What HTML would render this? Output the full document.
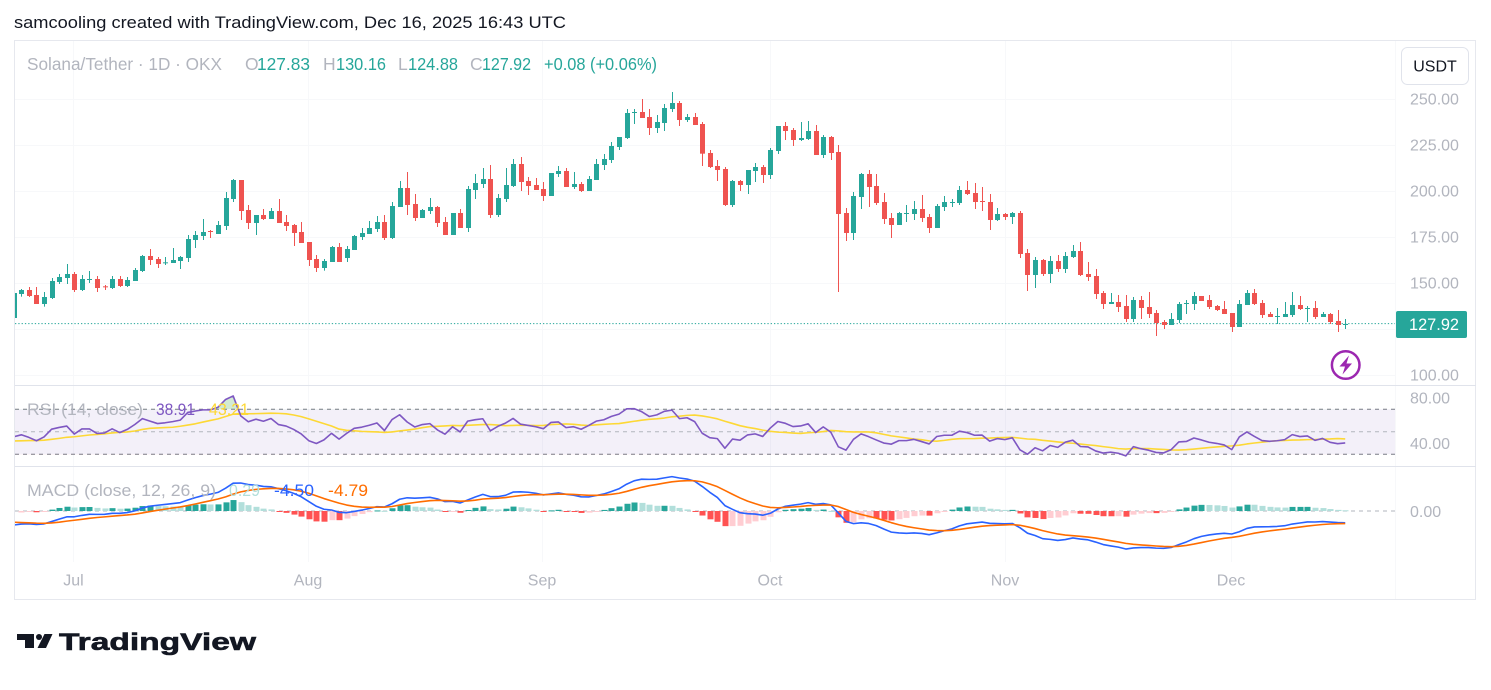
<!DOCTYPE html>
<html><head><meta charset="utf-8">
<style>
html,body{margin:0;padding:0;background:#fff;}
svg{display:block;font-family:"Liberation Sans",sans-serif;}
</style></head>
<body>
<svg id="c" width="1491" height="690" viewBox="0 0 1491 690" xmlns="http://www.w3.org/2000/svg">
<defs>
<clipPath id="cm"><rect x="15" y="41" width="1380" height="344"/></clipPath>
<clipPath id="cr"><rect x="15" y="386" width="1380" height="80"/></clipPath>
<clipPath id="cd"><rect x="15" y="467" width="1380" height="100"/></clipPath>
<clipPath id="ob"><rect x="15" y="386" width="1380" height="23.25"/></clipPath>
<clipPath id="os"><rect x="15" y="454.25" width="1380" height="12"/></clipPath>
</defs>
<rect x="0" y="0" width="1491" height="690" fill="#fff"/>
<text x="14" y="28" font-size="17" fill="#131722" textLength="552" lengthAdjust="spacingAndGlyphs">samcooling created with TradingView.com, Dec 16, 2025 16:43 UTC</text>
<rect x="14.5" y="40.5" width="1461" height="559" fill="#fff" stroke="#e6e8ee"/>
<!-- grid -->
<g stroke="#f7f8fa" stroke-width="1">
<line x1="15" y1="99.5" x2="1395" y2="99.5"/>
<line x1="15" y1="145.5" x2="1395" y2="145.5"/>
<line x1="15" y1="191.5" x2="1395" y2="191.5"/>
<line x1="15" y1="237.5" x2="1395" y2="237.5"/>
<line x1="15" y1="283.5" x2="1395" y2="283.5"/>
<line x1="15" y1="329.5" x2="1395" y2="329.5"/>
<line x1="15" y1="375.5" x2="1395" y2="375.5"/>
<line x1="73.5" y1="41" x2="73.5" y2="562"/>
<line x1="308.5" y1="41" x2="308.5" y2="562"/>
<line x1="542.5" y1="41" x2="542.5" y2="562"/>
<line x1="770.5" y1="41" x2="770.5" y2="562"/>
<line x1="1005.5" y1="41" x2="1005.5" y2="562"/>
<line x1="1231.5" y1="41" x2="1231.5" y2="562"/>
<line x1="1395.5" y1="41" x2="1395.5" y2="599"/>
</g>
<!-- pane separators -->
<line x1="15" y1="385.5" x2="1476" y2="385.5" stroke="#e0e3eb"/>
<line x1="15" y1="466.5" x2="1476" y2="466.5" stroke="#e0e3eb"/>
<!-- RSI band -->
<rect x="15" y="409.25" width="1380" height="45" fill="#7e57c2" fill-opacity="0.09"/>
<line x1="15" y1="409.25" x2="1395" y2="409.25" stroke="#787b86" stroke-dasharray="4,4"/>
<line x1="15" y1="431.75" x2="1395" y2="431.75" stroke="#b2b5be" stroke-dasharray="4,4"/>
<line x1="15" y1="454.25" x2="1395" y2="454.25" stroke="#787b86" stroke-dasharray="4,4"/>
<!-- MACD zero -->
<line x1="15" y1="511" x2="1395" y2="511" stroke="#b2b5be" stroke-dasharray="4,4"/>
<!-- last price dotted line -->
<line x1="15" y1="323.6" x2="1395" y2="323.6" stroke="#26a69a" stroke-dasharray="1.3,2"/>
<g id="candles" clip-path="url(#cm)"></g>
<g id="rsi" clip-path="url(#cr)"></g>
<g id="macd" clip-path="url(#cd)"></g>
<!-- legends -->
<text y="70" font-size="17.5" fill="#b2b5be">
<tspan x="27" textLength="195" lengthAdjust="spacingAndGlyphs">Solana/Tether · 1D · OKX</tspan>
</text>
<text y="70" font-size="17.5" fill="#b2b5be"><tspan x="245">O</tspan></text>
<text x="257" y="70" font-size="17.5" fill="#26a69a" textLength="53" lengthAdjust="spacingAndGlyphs">127.83</text>
<text y="70" font-size="17.5" fill="#b2b5be"><tspan x="323">H</tspan></text>
<text x="336" y="70" font-size="17.5" fill="#26a69a" textLength="50" lengthAdjust="spacingAndGlyphs">130.16</text>
<text y="70" font-size="17.5" fill="#b2b5be"><tspan x="398">L</tspan></text>
<text x="408" y="70" font-size="17.5" fill="#26a69a" textLength="50" lengthAdjust="spacingAndGlyphs">124.88</text>
<text y="70" font-size="17.5" fill="#b2b5be"><tspan x="470">C</tspan></text>
<text x="482" y="70" font-size="17.5" fill="#26a69a" textLength="49" lengthAdjust="spacingAndGlyphs">127.92</text>
<text x="544" y="70" font-size="17.5" fill="#26a69a" textLength="113" lengthAdjust="spacingAndGlyphs">+0.08 (+0.06%)</text>

<g id="ind-legend" font-size="17">
<text x="27" y="415" fill="#b2b5be" textLength="116" lengthAdjust="spacingAndGlyphs">RSI (14, close)</text>
<text x="156" y="415" fill="#7e57c2" textLength="39" lengthAdjust="spacingAndGlyphs">38.91</text>
<text x="209" y="415" fill="#fdd835" textLength="40" lengthAdjust="spacingAndGlyphs">43.21</text>
<text x="27" y="496" fill="#b2b5be" textLength="189" lengthAdjust="spacingAndGlyphs">MACD (close, 12, 26, 9)</text>
<text x="229" y="496" fill="#b2dfdb" textLength="31" lengthAdjust="spacingAndGlyphs">0.29</text>
<text x="274" y="496" fill="#2962ff" textLength="40" lengthAdjust="spacingAndGlyphs">-4.50</text>
<text x="328" y="496" fill="#ff6d00" textLength="40" lengthAdjust="spacingAndGlyphs">-4.79</text>
</g>

<!-- price axis -->
<g font-size="16" fill="#b2b5be">
<text x="1410" y="104.7">250.00</text>
<text x="1410" y="150.7">225.00</text>
<text x="1410" y="196.7">200.00</text>
<text x="1410" y="242.7">175.00</text>
<text x="1410" y="288.7">150.00</text>
<text x="1410" y="380.7">100.00</text>
<text x="1410" y="403.5">80.00</text>
<text x="1410" y="449">40.00</text>
<text x="1410" y="516.8">0.00</text>
</g>
<!-- time axis -->
<g font-size="16" fill="#b2b5be" text-anchor="middle">
<text x="73.5" y="585.5">Jul</text>
<text x="308" y="585.5">Aug</text>
<text x="542" y="585.5">Sep</text>
<text x="770" y="585.5">Oct</text>
<text x="1005" y="585.5">Nov</text>
<text x="1231" y="585.5">Dec</text>
</g>
<!-- USDT button -->
<rect x="1401.5" y="47.5" width="67" height="37" rx="6" fill="#fff" stroke="#e0e3eb"/>
<text x="1435" y="71.5" font-size="16" fill="#131722" text-anchor="middle">USDT</text>
<!-- last price label -->
<rect x="1396" y="311" width="71" height="27" rx="2" fill="#26a69a"/>
<text x="1409" y="330" font-size="16.5" fill="#fff" textLength="50" lengthAdjust="spacingAndGlyphs">127.92</text>
<!-- lightning icon -->
<circle cx="1345.7" cy="365" r="13.8" fill="#fff" stroke="#9c27b0" stroke-width="2.5"/>
<polygon points="1349,355.5 1339.5,366.5 1345,366.5 1342.5,374.5 1352,363.5 1346.5,363.5" fill="#9c27b0"/>
<!-- TradingView logo -->
<g fill="#131722">
<rect x="17" y="634" width="17" height="6"/>
<rect x="25" y="634" width="9" height="14"/>
<circle cx="39" cy="637" r="3"/>
<polygon points="44.5,634 52.5,634 46,648 37.5,648"/>
<text x="59" y="650" font-size="24" font-weight="bold" textLength="197" lengthAdjust="spacingAndGlyphs" stroke="#131722" stroke-width="0.6">TradingView</text>
</g>
</svg>
<script>
(function(){
const NS="http://www.w3.org/2000/svg";
function el(tag,attrs,parent){const e=document.createElementNS(NS,tag);for(const k in attrs)e.setAttribute(k,attrs[k]);parent.appendChild(e);return e;}
const Z=[
[150,0,[
[1,420,432,417,440],[0,420,438,411,441],[0,435,462,411,462],[1,441,462,426,470],[1,393,444,384,447],
[1,381,396,372,402],[1,372,384,342,402],[0,372,420,366,426],[1,387,420,375,423],[1,387,389,363,399],
[0,387,414,378,426],[0,409,411,405,420],[1,387,414,378,417],[0,387,408,378,411],[1,390,408,381,411],
[1,360,393,354,393],[1,318,363,315,366],[0,318,330,297,345],[0,327,342,321,354],[1,337,339,321,345],
[1,330,339,294,339],[1,321,333,318,357],[1,267,324,255,336],[1,255,270,243,294],[1,246,258,207,270],
[0,243,246,240,264],[1,225,252,213,252],[1,144,228,126,240],[1,90,147,87,156],[0,90,183,90,210],
[0,180,219,165,237],[1,195,219,195,255],[0,195,207,177,210],[1,183,207,174,207],[0,183,219,147,219],
[0,216,228,195,243],[0,225,249,222,288],[0,246,279,216,279],[0,276,330,276,348],[0,327,354,315,366],
[1,333,354,327,362],[1,291,336,288,336],[0,291,336,279,336],[1,297,324,288,336]
]],
[85,44,[
[1,453,495,450,495],[1,444,456,429,465],[1,429,447,408,447],[1,411,432,393,441],[0,411,459,390,465],
[1,363,459,351,462],[1,309,366,288,366],[0,309,360,261,390],[0,357,399,327,408],[1,375,399,372,399],
[1,366,378,339,387],[0,366,414,363,426],[0,411,450,396,450],[1,384,450,384,450],[0,384,429,372,429],
[1,312,429,303,441],[1,294,315,267,342],[1,282,297,249,309],[0,282,390,240,399],[1,339,390,327,396],
[1,300,342,249,351],[1,237,303,222,306],[0,237,291,216,318],[0,288,303,276,330],[0,300,315,279,315],
[0,312,333,291,348],[1,264,333,264,333],[1,258,267,243,276],[0,258,306,249,306],[1,297,306,261,312],
[0,297,318,291,321],[1,282,318,273,318],[1,237,285,222,285],[1,222,240,207,255],[1,183,225,171,234],
[1,156,186,156,195],[1,84,159,72,162],[1,81,83,72,117],[0,81,99,42,99],[0,96,129,72,150],
[1,111,129,90,144],[1,69,114,57,138],[1,54,72,21,81],[0,54,105,48,123],[1,96,105,87,111],
[0,96,120,84,120]
]],
[110,90,[
[0,42,131,36,168],[0,129,171,120,174],[0,168,180,150,213],[0,177,285,171,288],[1,213,285,210,291],
[0,213,225,210,243],[1,180,225,180,252],[1,171,183,159,216],[0,171,195,165,219],[1,120,195,114,207],
[1,48,123,48,132],[0,48,63,36,90],[0,60,90,54,108],[1,84,90,36,93],[1,63,87,33,90],
[0,63,135,45,135],[1,81,135,75,144],[0,81,129,78,150],[0,126,312,105,546],[0,309,369,294,393],
[1,258,369,246,390],[1,192,261,189,297],[0,192,231,180,291],[0,228,279,192,285],[0,276,327,249,342],
[0,324,345,309,384],[1,309,345,306,345],[1,309,311,285,336],[1,297,312,273,330],[0,297,324,255,336],
[0,321,354,312,369],[1,288,354,282,354],[1,276,291,258,303],[1,276,278,267,291],[1,240,279,228,285],
[0,240,252,213,255],[0,249,276,219,297],[0,273,275,231,303],[0,276,330,252,360],[1,312,330,294,333],
[0,312,321,309,330],[1,309,321,306,342],[0,309,432,303,444],[0,429,495,417,543]
]],
[235,134,[
[1,75,120,66,159],[0,75,117,72,123],[1,78,117,63,144],[0,78,102,60,111],[1,63,102,51,114],
[1,48,66,30,69],[0,48,120,21,123],[0,117,126,81,138],[0,123,177,102,192],[0,174,207,168,222],
[1,201,207,174,207],[0,201,216,180,231],[0,213,252,180,261],[1,195,252,186,261],[0,195,219,183,252],
[0,216,237,171,249],[0,234,264,225,303],[0,261,270,255,282],[1,252,270,234,270],[1,207,255,201,264],
[1,204,206,195,237],[1,183,207,171,225],[0,183,198,183,198],[0,195,216,180,222],[0,213,225,210,228],
[0,222,237,198,237],[0,234,276,234,291],[1,207,276,195,276],[1,174,210,165,210],[0,174,207,162,210],
[0,204,240,195,249],[0,237,246,231,246],[1,243,245,219,267],[1,237,246,201,246],[1,210,240,171,246],
[0,210,222,183,225],[1,219,221,213,261],[0,219,246,198,252],[1,237,246,231,246],[0,237,261,234,267],
[0,258,270,225,291],[1,267,269,252,282]
]]];
const bars=[];
Z.forEach(function(z){const y0=z[0],s=z[1];z[2].forEach(function(r,j){bars.push({i:s+j,up:r[0]===1,bt:y0+r[1]/3,bb:y0+r[2]/3,wt:y0+r[3]/3,wb:y0+r[4]/3});});});
const P=function(y){return 250-(y-99)/1.84;};
bars.forEach(function(b){b.o=P(b.up?b.bb:b.bt);b.c=P(b.up?b.bt:b.bb);});
const X=function(i){return 21.34+7.565*i;};
const gC=document.getElementById('candles');
function candle(i,up,bt,bb,wt,wb){
  const x=Math.round(X(i));const col=up?'#26a69a':'#ef5350';
  el('rect',{x:x,y:wt,width:1,height:Math.max(1,wb-wt),fill:col},gC);
  el('rect',{x:x-2,y:bt,width:5,height:Math.max(1,bb-bt),fill:col},gC);
}
candle(-1,true,293,318,290,320);
bars.forEach(function(b){candle(b.i,b.up,b.bt,b.bb,b.wt,b.wb);});

// RSI
let ag=2.3,al=2.75,prev=bars[0].o;const rsi=[];
bars.forEach(function(b){const ch=b.c-prev;ag=(ag*13+Math.max(ch,0))/14;al=(al*13+Math.max(-ch,0))/14;rsi.push(100-100/(1+ag/al));prev=b.c;});
const hist=[];for(let k=0;k<13;k++)hist.push(41.5);
const ma=[];rsi.forEach(function(r){hist.push(r);const w=hist.slice(-14);ma.push(w.reduce(function(a,c){return a+c;},0)/14);});
const YR=function(v){return 398+(80-v)*1.125;};
const gR=document.getElementById('rsi');
let rp=[[X(-1),YR(45.5)]];rsi.forEach(function(v,k){rp.push([X(bars[k].i),YR(v)]);});
let mp=[[X(-1),YR(41.8)]];ma.forEach(function(v,k){mp.push([X(bars[k].i),YR(v)]);});
const pts=function(a){return a.map(function(p){return p[0].toFixed(2)+','+p[1].toFixed(2);}).join(' ');};
const fo=el('g',{'clip-path':'url(#ob)'},gR);
el('polygon',{points:pts(rp)+' '+X(175).toFixed(2)+','+YR(70)+' '+X(-1).toFixed(2)+','+YR(70),fill:'#4caf50','fill-opacity':'0.25'},fo);
const fs=el('g',{'clip-path':'url(#os)'},gR);
el('polygon',{points:pts(rp)+' '+X(175).toFixed(2)+','+YR(30)+' '+X(-1).toFixed(2)+','+YR(30),fill:'#f23645','fill-opacity':'0.2'},fs);
el('polyline',{points:pts(mp),fill:'none',stroke:'#fdd835','stroke-width':1.6,'stroke-linejoin':'round'},gR);
el('polyline',{points:pts(rp),fill:'none',stroke:'#7e57c2','stroke-width':1.6,'stroke-linejoin':'round'},gR);

// MACD
let e12=146.5,e26=151.9,sg=-4.3,ph=-1.1;
const YM=function(v){return 511-v*2.6;};
const gM=document.getElementById('macd');
const mL=[[X(-1),YM(-5.4)]],sL=[[X(-1),YM(-4.3)]];
const hb=[];
bars.forEach(function(b){
  e12+=(b.c-e12)*2/13;e26+=(b.c-e26)*2/27;const m=e12-e26;sg+=(m-sg)*2/10;const h=m-sg;
  let col;if(h>=0){col=h>=ph?'#26a69a':'#b2dfdb';}else{col=h<ph?'#ff5252':'#ffcdd2';}
  hb.push([b.i,h,col]);ph=h;
  mL.push([X(b.i),YM(m)]);sL.push([X(b.i),YM(sg)]);
});
hb.forEach(function(q){const x=Math.round(X(q[0]));const y=YM(q[1]);const top=Math.min(y,511),hh=Math.max(1,Math.abs(y-511));
  el('rect',{x:x-2.5,y:top,width:6,height:hh,fill:q[2]},gM);});
el('polyline',{points:pts(mL),fill:'none',stroke:'#2962ff','stroke-width':1.6,'stroke-linejoin':'round'},gM);
el('polyline',{points:pts(sL),fill:'none',stroke:'#ff6d00','stroke-width':1.6,'stroke-linejoin':'round'},gM);
})();
</script>
</body></html>
